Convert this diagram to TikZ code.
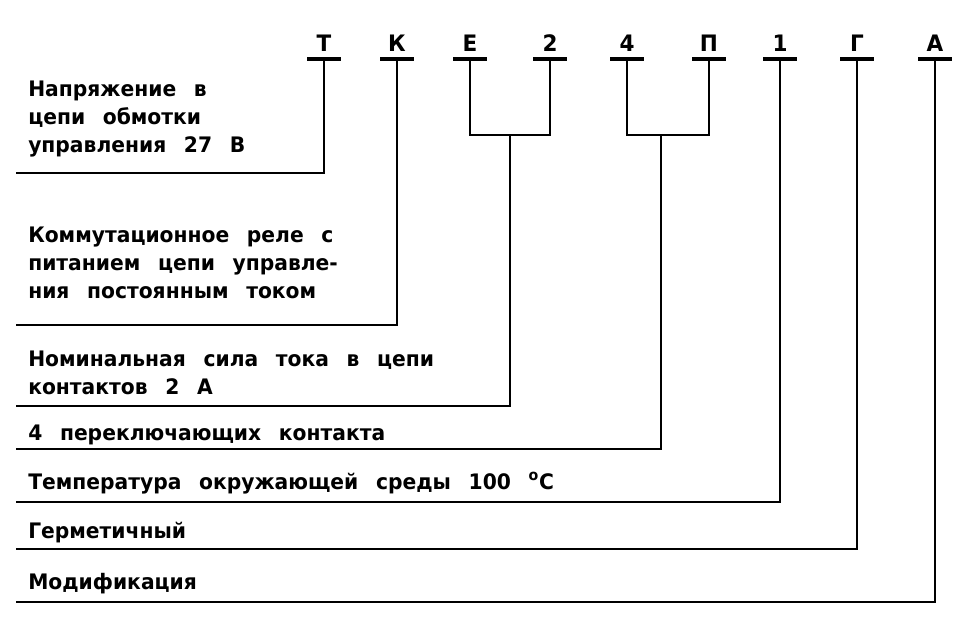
\documentclass[tikz,border=0pt]{standalone}
\usepackage{fontspec}
\setmainfont{DejaVu Sans}[WordSpace=2.5, FakeStretch=0.95]
\begin{document}
\begin{tikzpicture}[x=0.75pt,y=-0.75pt,
    lead/.style={line width=2pt},
    bar/.style={line width=2.4pt},
    code/.style={font=\fontsize{17}{17}\bfseries\selectfont, anchor=base, inner sep=0pt},
    txt/.style={font=\fontsize{16}{21}\bfseries\selectfont, align=left, anchor=base west, inner sep=0pt}]
    \useasboundingbox (0,0) rectangle (972,618);

    % letters of the code with their bars
    \foreach \n/\x/\l in {t/324/Т, k/397/К, e/470/Е, a2/550/2, a4/627/4, p/709/П, a1/780/1, g/857/Г, a/935/А}
    {
        \node[code] (\n) at (\x,51) {\l};
        \coordinate (top-\n) at (\x,59);
        \draw[bar] (\x-17,59) -- (\x+17,59);
    }

    % texts (base = last line)
    \node[txt] (volt) at (28,152) {Напряжение в\\цепи обмотки\\управления 27 В};
    \node[txt] (relay) at (28,298) {Коммутационное реле с\\питанием цепи управле-\\ния постоянным током};
    \node[txt] (cur) at (28,394) {Номинальная сила тока в цепи\\контактов 2 А};
    \node[txt] (cont) at (28,440) {4 переключающих контакта};
    \node[txt] (temp) at (28,489) {Температура окружающей среды 100 \textsuperscript{o}C};
    \node[txt] (herm) at (28,538) {Герметичный};
    \node[txt] (mod) at (28,589) {Модификация};

    % ends of the underlines
    \foreach \n/\y in {volt/173, relay/325, cur/406, cont/449, temp/502, herm/549, mod/602}
        \coordinate (end-\n) at (16,\y);

    % joints of the paired letters
    \coordinate (ej) at (510,135);
    \coordinate (pj) at (661,135);

    \draw[lead] (top-t) |- (end-volt);
    \draw[lead] (top-k) |- (end-relay);
    \draw[lead] (top-e) |- (ej) -| (top-a2);
    \draw[lead] (ej) |- (end-cur);
    \draw[lead] (top-a4) |- (pj) -| (top-p);
    \draw[lead] (pj) |- (end-cont);
    \draw[lead] (top-a1) |- (end-temp);
    \draw[lead] (top-g) |- (end-herm);
    \draw[lead] (top-a) |- (end-mod);
\end{tikzpicture}
\end{document}
